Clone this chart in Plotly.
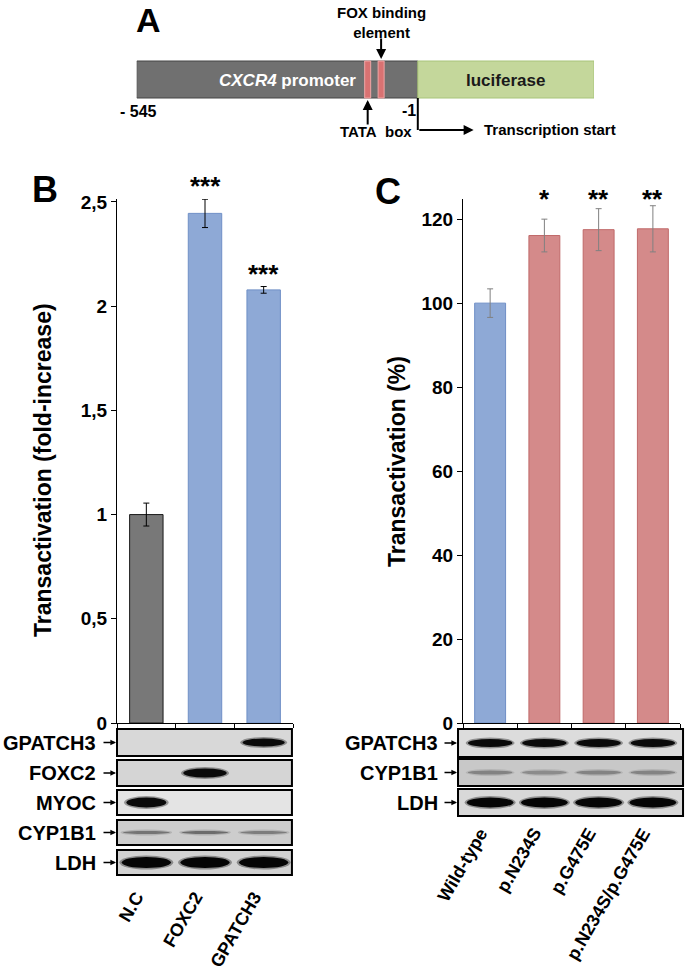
import plotly.graph_objects as go

W, H = 685, 973
FONT = "Liberation Sans, Arial, sans-serif"

# ---------------- Panel B data ----------------
cats_B = ["N.C", "FOXC2", "GPATCH3"]
vals_B = [1.0, 2.445, 2.078]
err_B = [0.055, 0.068, 0.016]
fill_B = ["#787878", "#8EA9D6", "#8EA9D6"]
edge_B = ["#1a1a1a", "#6F8FC6", "#6F8FC6"]
stars_B = ["", "***", "***"]
yticks_B = [0, 0.5, 1, 1.5, 2, 2.5]
yticktext_B = ["0", "0,5", "1", "1,5", "2", "2,5"]

# ---------------- Panel C data ----------------
cats_C = ["Wild-type", "p.N234S", "p.G475E", "p.N234S/p.G475E"]
vals_C = [100.0, 116.1, 117.5, 117.7]
err_C = [3.4, 3.9, 5.0, 5.5]
fill_C = ["#8EA9D6", "#D48A8A", "#D48A8A", "#D48A8A"]
edge_C = ["#6F8FC6", "#C06A6A", "#C06A6A", "#C06A6A"]
stars_C = ["", "*", "**", "**"]
yticks_C = [0, 20, 40, 60, 80, 100, 120]

# ---------------- Western blot band intensities ----------------
gpatch3_B = [0, 0, 1]
foxc2_B = [0, 1, 0]
myoc_B = [1, 0, 0]
cyp1b1_B = [0.45, 0.5, 0.4]
ldh_B = [1, 1, 1]

gpatch3_C = [1, 1, 1, 1]
cyp1b1_C = [0.35, 0.3, 0.35, 0.35]
ldh_C = [1, 1, 1, 1]

# ---------------- Panel A construct (bp) ----------------
promoter_start = -545
tata_pos = -98
fox_pos = -72
tss = -1
luc_end = 340


def px(x):
    return x / W


def py(y):
    return 1 - y / H


fig = go.Figure()

fig.add_trace(go.Bar(
    x=cats_B, y=vals_B, width=0.57,
    marker=dict(color=fill_B, line=dict(color=edge_B, width=1)),
    error_y=dict(type="data", array=err_B, color="black", thickness=1, width=3),
    xaxis="x", yaxis="y", showlegend=False, hoverinfo="skip"))

fig.add_trace(go.Bar(
    x=cats_C, y=vals_C, width=0.57,
    marker=dict(color=fill_C, line=dict(color=edge_C, width=1)),
    error_y=dict(type="data", array=err_C, color="#808080", thickness=1, width=3),
    xaxis="x2", yaxis="y2", showlegend=False, hoverinfo="skip"))

# invisible trace to host panel A axis
fig.add_trace(go.Scatter(x=[promoter_start, luc_end], y=[0.5, 0.5], mode="markers",
                         marker=dict(opacity=0), xaxis="x3", yaxis="y3",
                         showlegend=False, hoverinfo="skip"))

shapes = []
ann = []


def font(size, color="black", weight="bold", style="normal"):
    return dict(family=FONT, size=size, color=color, weight=weight, style=style)


# ---------------- Panel A ----------------
box_top, box_bot = 61, 98
shapes.append(dict(type="rect", xref="x3", yref="paper", x0=promoter_start, x1=tss,
                   y0=py(box_bot), y1=py(box_top), fillcolor="#707070",
                   line=dict(color="#454545", width=1), layer="above"))
shapes.append(dict(type="rect", xref="x3", yref="paper", x0=tss, x1=luc_end,
                   y0=py(box_bot), y1=py(box_top), fillcolor="#C4D79B",
                   line=dict(color="#A8C47A", width=1), layer="above"))
for pos in (tata_pos, fox_pos):
    shapes.append(dict(type="rect", xref="x3", yref="paper", xsizemode="pixel",
                       xanchor=pos, x0=-3, x1=3, y0=py(box_bot), y1=py(box_top),
                       fillcolor="#D97272", line=dict(color="#EFA6A6", width=1),
                       layer="above"))
# transcription start line
shapes.append(dict(type="line", xref="x3", yref="paper", x0=tss, x1=tss,
                   y0=py(box_bot), y1=py(130), line=dict(color="black", width=2),
                   layer="above"))
ann.append(dict(xref="x3", yref="paper", x=tss + 108, y=py(130), axref="x3",
                ayref="pixel", ax=tss, ay=0, text="", showarrow=True,
                arrowhead=2, arrowsize=1, arrowwidth=2, arrowcolor="black"))
# FOX arrow (down) and TATA arrow (up)
ann.append(dict(xref="x3", yref="paper", x=fox_pos, y=py(59), ax=0, ay=-22,
                text="", showarrow=True, arrowhead=2, arrowsize=1, arrowwidth=2,
                arrowcolor="black"))
ann.append(dict(xref="x3", yref="paper", x=tata_pos, y=py(100), ax=0, ay=26,
                text="", showarrow=True, arrowhead=2, arrowsize=1, arrowwidth=2,
                arrowcolor="black"))
ann.append(dict(xref="x3", yref="paper", x=fox_pos, y=py(23), text="FOX binding<br>element",
                showarrow=False, font=font(15), xanchor="center", yanchor="middle"))
ann.append(dict(xref="x3", yref="paper", x=tata_pos, xshift=8, y=py(132),
                text="TATA\u00a0\u00a0box", showarrow=False, font=font(15),
                xanchor="center", yanchor="middle"))
ann.append(dict(xref="x3", yref="paper", x=tss, xshift=64, y=py(130),
                text="Transcription\u00a0start", showarrow=False, font=font(15),
                xanchor="left", yanchor="middle"))
ann.append(dict(xref="x3", yref="paper", x=promoter_start, xshift=2, y=py(111),
                text="- 545", showarrow=False, font=font(16),
                xanchor="center", yanchor="middle"))
ann.append(dict(xref="x3", yref="paper", x=tss, y=py(110), text="-1",
                showarrow=False, font=font(16), xanchor="right", yanchor="middle"))
ann.append(dict(xref="paper", yref="paper", x=px(287), y=py(80),
                text="<i>CXCR4</i> promoter", showarrow=False,
                font=font(17, color="white"), xanchor="center", yanchor="middle"))
ann.append(dict(xref="x3", yref="paper", x=(tss + luc_end) / 2, y=py(80),
                text="luciferase", showarrow=False, font=font(17, color="#1a1a1a"),
                xanchor="center", yanchor="middle"))

# ---------------- Panel letters and titles ----------------
ann.append(dict(xref="paper", yref="paper", x=px(148), y=py(20), text="A",
                showarrow=False, font=font(34), xanchor="center", yanchor="middle"))
ann.append(dict(xref="paper", yref="paper", x=px(45), y=py(190), text="B",
                showarrow=False, font=font(36), xanchor="center", yanchor="middle"))
ann.append(dict(xref="paper", yref="paper", x=px(388), y=py(192), text="C",
                showarrow=False, font=font(36), xanchor="center", yanchor="middle"))
ann.append(dict(xref="paper", yref="paper", x=px(43), y=py(470),
                text="Transactivation (fold-increase)", textangle=-90,
                showarrow=False, font=font(23), xanchor="center", yanchor="middle"))
ann.append(dict(xref="paper", yref="paper", x=px(397), y=py(462),
                text="Transactivation (%)", textangle=-90,
                showarrow=False, font=font(23), xanchor="center", yanchor="middle"))

# ---------------- significance stars ----------------
for c, v, e, s in zip(cats_B, vals_B, err_B, stars_B):
    if s:
        ann.append(dict(xref="x", yref="y", x=c, y=v + e, yshift=-4, text=s,
                        showarrow=False, font=font(26), xanchor="center",
                        yanchor="bottom"))
for c, s in zip(cats_C, stars_C):
    if s:
        ann.append(dict(xref="x2", yref="paper", x=c, y=py(199), text=s,
                        showarrow=False, font=font(26), xanchor="center",
                        yanchor="middle"))


# ---------------- western blots ----------------
def blot(xaxis, frame_x0, frame_x1, top, bot, bg, intens, band_h, band_hw, band_rgb):
    shapes.append(dict(type="rect", xref=xaxis + " domain", yref="paper",
                       x0=frame_x0, x1=frame_x1, y0=py(bot), y1=py(top),
                       fillcolor=bg, line=dict(color="black", width=2), layer="above"))
    cy = (top + bot) / 2
    for i, v in enumerate(intens):
        if v <= 0:
            continue
        r, g, b = band_rgb
        shapes.append(dict(type="circle", xref=xaxis, yref="paper",
                           x0=i - band_hw - 0.04, x1=i + band_hw + 0.04,
                           y0=py(cy + band_h / 2 + 1.5), y1=py(cy - band_h / 2 - 1.5),
                           fillcolor="rgba(%d,%d,%d,%.2f)" % (r, g, b, 0.35 * v),
                           line=dict(width=0), layer="above"))
        shapes.append(dict(type="circle", xref=xaxis, yref="paper",
                           x0=i - band_hw, x1=i + band_hw,
                           y0=py(cy + band_h / 2), y1=py(cy - band_h / 2),
                           fillcolor="rgba(%d,%d,%d,%.2f)" % (r, g, b, v),
                           line=dict(width=0), layer="above"))


def blot_label(name, right_px, tip_px, cy):
    ann.append(dict(xref="paper", yref="paper", x=px(right_px), y=py(cy), text=name,
                    showarrow=False, font=font(20), xanchor="right", yanchor="middle"))
    ann.append(dict(xref="paper", yref="paper", x=px(tip_px), y=py(cy), ax=-14, ay=0,
                    text="", showarrow=True, arrowhead=2, arrowsize=0.7,
                    arrowwidth=1.6, arrowcolor="black"))


rows_B = [
    ("GPATCH3", 729, 756, "#D8D8D8", gpatch3_B, 8, 0.36, (10, 10, 10)),
    ("FOXC2", 760, 786, "#D5D5D5", foxc2_B, 9, 0.37, (10, 10, 10)),
    ("MYOC", 790, 815, "#E4E4E4", myoc_B, 10, 0.34, (10, 10, 10)),
    ("CYP1B1", 820, 845, "#CDCDCD", cyp1b1_B, 3, 0.40, (40, 40, 40)),
    ("LDH", 850, 875, "#D2D2D2", ldh_B, 11, 0.42, (5, 5, 5)),
]
for name, top, bot, bg, intens, bh, hw, rgb in rows_B:
    blot("x", 0.0, 0.994, top, bot, bg, intens, bh, hw, rgb)
    blot_label(name, 98, 116, (top + bot) / 2)

rows_C = [
    ("GPATCH3", 729, 757, "#DCDCDC", gpatch3_C, 8, 0.41, (10, 10, 10)),
    ("CYP1B1", 759, 786, "#C8C8C8", cyp1b1_C, 4, 0.41, (40, 40, 40)),
    ("LDH", 789, 816, "#D8D8D8", ldh_C, 10, 0.43, (5, 5, 5)),
]
for name, top, bot, bg, intens, bh, hw, rgb in rows_C:
    blot("x2", -0.023, 1.014, top, bot, bg, intens, bh, hw, rgb)
    blot_label(name, 440, 457, (top + bot) / 2)

# ---------------- rotated lane labels ----------------
for c in cats_B:
    ann.append(dict(xref="x", yref="paper", x=c, xshift=4, y=py(886), text=c,
                    textangle=-60, showarrow=False, font=font(18),
                    xanchor="right", yanchor="top"))
for c in cats_C:
    ann.append(dict(xref="x2", yref="paper", x=c, xshift=4, y=py(822), text=c,
                    textangle=-60, showarrow=False, font=font(18),
                    xanchor="right", yanchor="top"))

axis_common = dict(showgrid=False, zeroline=False, showline=True, linecolor="black",
                   linewidth=1, ticks="outside", tickcolor="black", ticklen=5,
                   automargin=False)

fig.update_layout(
    width=W, height=H, margin=dict(l=0, r=0, t=0, b=0, pad=0, autoexpand=False),
    paper_bgcolor="white", plot_bgcolor="rgba(0,0,0,0)",
    font=dict(family=FONT, color="black"),
    xaxis=dict(domain=[px(117), px(293)], range=[-0.5, 2.5], type="category",
               tickson="boundaries", showticklabels=False, anchor="y",
               **{**axis_common, "ticklen": 4}),
    yaxis=dict(domain=[py(723), py(199)], range=[0, 2.514], tickvals=yticks_B,
               ticktext=yticktext_B, anchor="x",
               tickfont=dict(family=FONT, size=19, color="black", weight="bold"),
               **axis_common),
    xaxis2=dict(domain=[px(463), px(680)], range=[-0.5, 3.5], type="category",
                tickson="boundaries", showticklabels=False, anchor="y2",
                **{**axis_common, "ticklen": 4}),
    yaxis2=dict(domain=[py(723), py(199)], range=[0, 124.8], tickvals=yticks_C,
                anchor="x2",
                tickfont=dict(family=FONT, size=19, color="black", weight="bold"),
                **axis_common),
    xaxis3=dict(domain=[px(136.7), px(594)], range=[promoter_start, luc_end],
                visible=False, anchor="y3", automargin=False),
    yaxis3=dict(domain=[py(140), py(0)], range=[0, 1], visible=False, anchor="x3",
                automargin=False),
    shapes=shapes, annotations=ann,
)

fig.write_html(
    "out.html",
    config={"displayModeBar": False},
    post_script="document.body.style.margin='0';document.body.style.padding='0';"
                "document.documentElement.style.overflow='hidden';",
)
